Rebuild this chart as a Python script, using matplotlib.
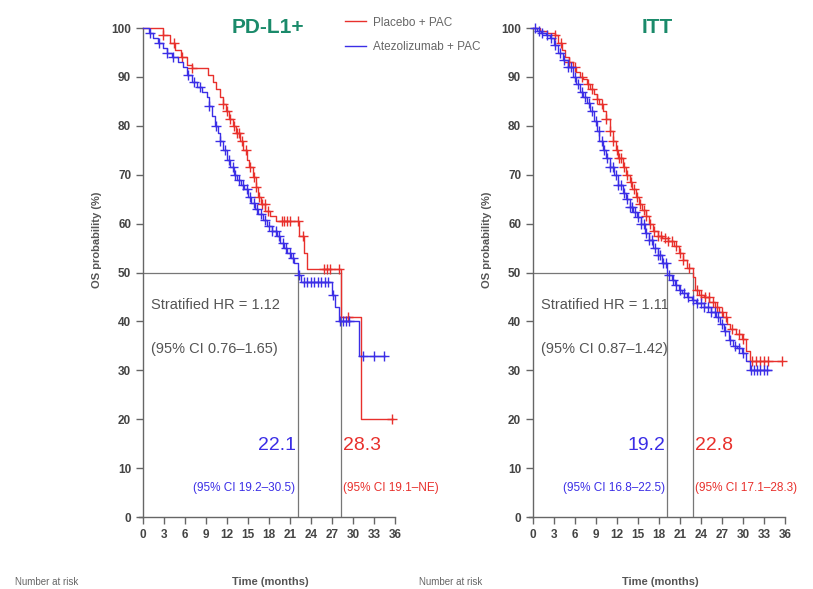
import numpy as np
import matplotlib
matplotlib.use("Agg")
import matplotlib.pyplot as plt

plt.rcParams['font.family'] = ['Liberation Sans', 'DejaVu Sans']

RED = '#e8302c'
BLUE = '#3b2ee6'
GRAY = '#555555'
TEAL = '#1a8a6a'

# ---------------- PD-L1+ panel data ----------------
pd_red_t = [0, 2.9, 3.8, 4.6, 5.5, 6.3, 7.0, 9.3, 10.0, 10.5, 11.0, 11.4, 11.9, 12.3, 12.8, 13.3,
            13.8, 14.3, 14.8, 15.2, 15.7, 16.1, 16.5, 16.9, 17.5, 18.2, 19.0, 22.3, 23.0, 23.4, 28.3, 31.2]
pd_red_s = [100, 98.5, 97, 95.5, 94, 92.5, 91.8, 90.5, 89, 87.5, 86, 84.5, 83, 81.5, 80, 78.5,
            77, 75, 73, 71.5, 69.5, 67.5, 65.5, 64, 62.5, 61.5, 60.5, 57.5, 54, 50.8, 41, 20]
pd_red_end = 35.7
pd_red_cens = [2.9, 4.4, 5.6, 7.0, 11.5, 12.0, 12.5, 13.0, 13.4, 13.7, 14.2, 14.7, 15.3, 15.8, 16.2,
               16.6, 17.0, 17.4, 17.8, 19.8, 20.2, 20.6, 21.0, 22.2, 22.8, 25.8, 26.3, 26.7, 28.0,
               29.3, 35.6]

pd_blue_t = [0, 0.8, 1.5, 2.2, 2.8, 3.4, 4.2, 5.0, 5.7, 6.3, 7.0, 7.7, 8.4, 9.1, 9.5, 9.9, 10.3,
             10.7, 11.0, 11.5, 12.0, 12.5, 13.0, 13.5, 14.0, 14.5, 15.0, 15.5, 16.0, 16.5, 17.1,
             17.7, 18.4, 19.1, 19.6, 20.1, 20.6, 21.1, 21.6, 22.1, 22.6, 27.0, 27.5, 28.0, 30.8]
pd_blue_s = [100, 99, 98, 97, 96, 95, 94, 93, 92, 90.5, 89, 88, 87, 86, 84, 82, 80,
             78.5, 77, 75, 73, 71.5, 70, 69, 68, 67, 65.5, 64.2, 63, 62, 60.7,
             59.5, 58.5, 57.5, 56, 55, 54, 53, 52, 49.5, 48, 45.5, 43, 40, 33]
pd_blue_end = 34.6
pd_blue_cens = [1.0, 2.3, 3.5, 4.3, 6.5, 7.3, 8.2, 9.5, 10.5, 11.0, 11.7, 12.3, 12.8, 13.2, 13.7,
                14.3, 14.8, 15.3, 15.8, 16.3, 16.8, 17.4, 18.0, 18.5, 19.0, 19.5, 20.0, 20.5, 21.0,
                21.5, 22.3, 23.0, 23.5, 24.0, 24.5, 25.0, 25.5, 26.0, 26.5, 27.2, 28.2, 28.6, 29.0,
                29.4, 31.5, 33.0, 34.5]

# ---------------- ITT panel data ----------------
itt_red_t = [0, 1.0, 2.0, 3.1, 3.6, 4.1, 4.6, 5.2, 5.7, 6.2, 6.7, 7.2, 7.7, 8.2, 8.7, 9.1, 9.5,
             10.0, 10.5, 11.0, 11.4, 11.8, 12.2, 12.8, 13.3, 13.8, 14.2, 14.7, 15.2, 15.6, 16.1,
             16.6, 17.1, 17.8, 18.5, 19.3, 20.1, 20.9, 21.5, 22.0, 22.8, 23.1, 23.7, 24.5, 25.2,
             26.0, 26.6, 27.2, 27.7, 28.2, 29.0, 29.9, 30.5, 31.0]
itt_red_s = [100, 99.5, 99, 98.5, 97, 95.5, 94, 93, 92, 91, 90, 89.5, 88.5, 87.5, 86.5, 85.5, 84.5,
             83, 81.5, 79, 77, 75, 73.5, 71.5, 70, 68.5, 67, 65.5, 64, 62.8, 61.5,
             60, 58.5, 57.5, 57, 56.5, 55.5, 54, 52.5, 51, 49, 46.5, 45.5, 45, 44,
             43, 42, 41, 39.5, 38.5, 37.5, 36.5, 34, 32]
itt_red_end = 35.6
itt_red_cens = [3.1, 4.0, 5.2, 6.0, 7.0, 7.8, 8.5, 9.2, 9.8, 10.5, 11.0, 11.5, 12.0, 12.3, 12.6,
                13.0, 13.5, 14.0, 14.4, 14.8, 15.3, 15.8, 16.2, 16.7, 17.3, 17.8, 18.3, 18.8, 19.3,
                19.8, 20.5, 21.0, 21.5, 22.3, 23.5, 24.0, 24.6, 25.1, 25.7, 26.3, 27.0, 27.6, 28.5,
                29.4, 30.0, 31.3, 31.8, 32.4, 33.0, 33.6, 35.6]

itt_blue_t = [0, 0.6, 1.2, 1.8, 2.4, 3.0, 3.6, 4.3, 5.0, 5.7, 6.2, 6.7, 7.2, 7.7, 8.2, 8.7, 9.1,
              9.5, 10.0, 10.5, 11.0, 11.6, 12.2, 12.8, 13.3, 13.8, 14.3, 14.8, 15.4, 16.0, 16.6,
              17.2, 17.8, 18.5, 19.2, 19.8, 20.3, 20.8, 21.3, 22.0, 22.7, 23.3, 24.5, 25.5, 26.1,
              26.7, 27.3, 28.0, 28.6, 29.2, 29.9, 30.5, 31.0]
itt_blue_s = [100, 99.5, 99, 98.5, 98, 96.5, 95, 93.5, 92, 90, 88.5, 87, 86, 84.7, 83, 81, 79,
              77, 75, 73.5, 71.6, 70, 68, 66.3, 65, 63.5, 62.3, 61.3, 60, 58, 56.6,
              55, 53.5, 52, 49.5, 48.5, 47.5, 46.5, 45.8, 45, 44.3, 43.8, 43, 42, 41,
              39.5, 38, 36.2, 35, 34.5, 33.5, 32, 30]
itt_blue_end = 34.0
itt_blue_cens = [0.3, 0.8, 1.3, 2.0, 2.6, 3.2, 3.8, 4.5, 5.0, 5.5, 6.0, 6.5, 7.0, 7.5, 8.0, 8.5,
                 9.0, 9.4, 9.8, 10.2, 10.6, 11.0, 11.4, 11.8, 12.2, 12.6, 13.0, 13.4, 13.8, 14.2,
                 14.6, 15.0, 15.4, 15.8, 16.2, 16.6, 17.0, 17.4, 17.8, 18.2, 18.6, 19.0, 19.5, 20.0,
                 20.5, 21.0, 21.6, 22.2, 22.8, 23.4, 24.0, 24.5, 25.0, 25.5, 26.0, 26.5, 27.0, 27.5,
                 28.2, 28.8, 29.4, 30.0, 31.2, 31.6, 32.0, 32.5, 33.0, 33.5]

x_ticks = list(range(0, 37, 3))
y_ticks = list(range(0, 101, 10))

panels = [
    dict(title='PD-L1+', left=0.1707, title_x=0.49,
         red=(pd_red_t, pd_red_s, pd_red_end, pd_red_cens),
         blue=(pd_blue_t, pd_blue_s, pd_blue_end, pd_blue_cens),
         med_blue=22.1, med_red=28.3,
         hr='Stratified HR = 1.12', hr_ci='(95% CI 0.76\u20131.65)',
         ci_blue='(95% CI 19.2\u201330.5)', ci_red='(95% CI 19.1\u2013NE)', legend=True),
    dict(title='ITT', left=0.6504, title_x=0.49,
         red=(itt_red_t, itt_red_s, itt_red_end, itt_red_cens),
         blue=(itt_blue_t, itt_blue_s, itt_blue_end, itt_blue_cens),
         med_blue=19.2, med_red=22.8,
         hr='Stratified HR = 1.11', hr_ci='(95% CI 0.87\u20131.42)',
         ci_blue='(95% CI 16.8\u201322.5)', ci_red='(95% CI 17.1\u201328.3)', legend=False),
]

fig = plt.figure(figsize=(8.13, 5.89), dpi=100)


def draw_km(ax, data, color, label):
    t, s, end, cens = data
    tt = np.array(list(t) + [end])
    ss = np.array(list(s) + [s[-1]])
    ax.step(tt, ss, where='post', color=color, lw=1.0, label=label, zorder=3)
    ct = np.array(cens)
    idx = np.searchsorted(np.array(t), ct, side='right') - 1
    cy = np.array(s)[idx]
    ax.plot(ct, cy, linestyle='none', marker='+', color=color, ms=7, mew=1.0, zorder=3)


for p in panels:
    ax = fig.add_axes([p['left'], 0.1222, 0.3237, 0.855])
    ax.set_xlim(-0.6, 37)
    ax.set_ylim(0, 103)
    for sp in ['top', 'right']:
        ax.spines[sp].set_visible(False)
    ax.spines['left'].set_position(('data', 0))
    ax.spines['left'].set_bounds(0, 100)
    ax.spines['bottom'].set_bounds(-0.6, 36)
    for sp in ['left', 'bottom']:
        ax.spines[sp].set_color('#666666')
        ax.spines[sp].set_linewidth(1.0)
    ax.set_xticks(x_ticks)
    ax.set_yticks(y_ticks)
    ax.tick_params(axis='both', direction='out', length=5, width=1.0, color='#666666',
                   labelsize=8.5, labelcolor='#444444')
    for lab in ax.get_xticklabels() + ax.get_yticklabels():
        lab.set_fontweight('bold')

    # median reference lines
    ax.plot([0, max(p['med_blue'], p['med_red'])], [50, 50], color='#777777', lw=0.9, zorder=2)
    ax.plot([p['med_blue'], p['med_blue']], [0, 50], color='#777777', lw=0.9, zorder=2)
    ax.plot([p['med_red'], p['med_red']], [0, 50], color='#777777', lw=0.9, zorder=2)

    draw_km(ax, p['red'], RED, 'Placebo + PAC')
    draw_km(ax, p['blue'], BLUE, 'Atezolizumab + PAC')

    ax.text(1.2, 43.3, p['hr'], color=GRAY, fontsize=10.5, ha='left', va='center')
    ax.text(1.2, 34.4, p['hr_ci'], color=GRAY, fontsize=10.5, ha='left', va='center')

    ax.text(p['med_blue'] - 0.3, 14.7, f"{p['med_blue']:.1f}", color=BLUE, fontsize=14,
            ha='right', va='center')
    ax.text(p['med_blue'] - 0.3, 5.9, p['ci_blue'], color=BLUE, fontsize=8.5,
            ha='right', va='center')
    ax.text(p['med_red'] + 0.3, 14.7, f"{p['med_red']:.1f}", color=RED, fontsize=14,
            ha='left', va='center')
    ax.text(p['med_red'] + 0.3, 5.9, p['ci_red'], color=RED, fontsize=8.5,
            ha='left', va='center')

    ax.set_title(p['title'], color=TEAL, fontsize=15, fontweight='bold', y=0.945, x=p['title_x'])
    ax.set_ylabel('OS probability (%)', color=GRAY, fontsize=8, fontweight='bold')
    ax.yaxis.set_label_coords(-0.14, 0.55)
    ax.set_xlabel('Time (months)', color=GRAY, fontsize=8, fontweight='bold', labelpad=26)

    if p['legend']:
        leg = ax.legend(loc='upper left', bbox_to_anchor=(0.745, 1.015), frameon=False,
                        fontsize=8.5, handlelength=1.7, handletextpad=0.6, labelspacing=1.1)
        for txt in leg.get_texts():
            txt.set_color('#666666')

fig.text(0.018, 0.004, 'Number at risk', fontsize=7, color='#666666', ha='left', va='bottom')
fig.text(0.515, 0.004, 'Number at risk', fontsize=7, color='#666666', ha='left', va='bottom')

fig.savefig('out.png', dpi=100)
